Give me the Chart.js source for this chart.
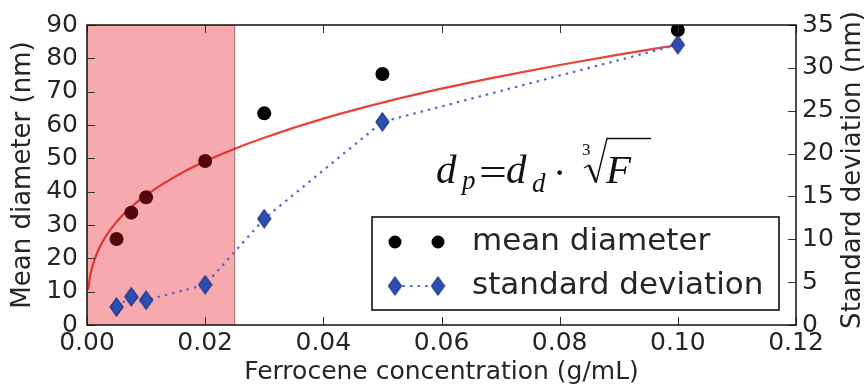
<!DOCTYPE html>
<html>
<head>
<meta charset="utf-8">
<script src="https://cdn.jsdelivr.net/npm/chart.js@4.4.1/dist/chart.umd.min.js"></script>
<style>
  html, body { margin: 0; padding: 0; background: #ffffff; }
  #wrap { width: 866px; height: 385px; position: relative; }
</style>
</head>
<body>
<div id="wrap"><canvas id="c" width="866" height="385"></canvas></div>
<script>
// ---- data ----
const concentration = [0.005, 0.0075, 0.01, 0.02, 0.03, 0.05, 0.10];
const meanDiameter  = [25.8, 33.7, 38.3, 49.2, 63.5, 75.3, 88.5];
const stdDeviation  = [2.1, 3.3, 2.9, 4.7, 12.4, 23.7, 32.7];
// fitted cube-root curve
const fitConcentration = [0.0002, 0.0005, 0.001, 0.002, 0.003, 0.004, 0.006, 0.008, 0.01, 0.015, 0.02, 0.025, 0.03, 0.04, 0.05, 0.06, 0.07, 0.08, 0.09, 0.10];
const fitDiameter      = [10.6, 14.4, 18.1, 22.8, 26.1, 28.7, 32.9, 36.2, 39.0, 44.6, 49.1, 52.9, 56.2, 61.9, 66.7, 70.9, 74.6, 78.0, 81.1, 84.0];
const shadedRange = [0, 0.025];
const xTickValues  = [0, 0.02, 0.04, 0.06, 0.08, 0.10, 0.12];
const yTickValues  = [0, 10, 20, 30, 40, 50, 60, 70, 80, 90];
const y2TickValues = [0, 5, 10, 15, 20, 25, 30, 35];
const seriesLabels = ['mean diameter', 'standard deviation'];
const xTitle = 'Ferrocene concentration (g/mL)';
const yTitle = 'Mean diameter (nm)';
const y2Title = 'Standard deviation (nm)';

const TEXT = '#262626';
const SANS = "'DejaVu Sans', sans-serif";

// thin diamond marker (matplotlib 'd')
function makeDiamond(w, h) {
  const c = document.createElement('canvas');
  c.width = w + 2; c.height = h + 2;
  const g = c.getContext('2d');
  g.beginPath();
  g.moveTo(c.width / 2, 1);
  g.lineTo(c.width - 1, c.height / 2);
  g.lineTo(c.width / 2, c.height - 1);
  g.lineTo(1, c.height / 2);
  g.closePath();
  g.fillStyle = '#2f4fb0';
  g.fill();
  g.lineWidth = 1.2;
  g.strokeStyle = '#1d2f86';
  g.stroke();
  return c;
}
const diamond = makeDiamond(13, 18);

const toXY = (xs, ys) => xs.map((x, i) => ({ x: x, y: ys[i] }));

const decorPlugin = {
  id: 'decor',
  beforeDatasetDraw(chart, args) {
    // the shaded span sits above the black dots but below the diamonds
    if (args.index !== 2) return;
    const { ctx, chartArea: a, scales: { x } } = chart;
    const x0 = x.getPixelForValue(shadedRange[0]);
    const x1 = x.getPixelForValue(shadedRange[1]);
    ctx.save();
    ctx.fillStyle = 'rgba(232, 20, 30, 0.36)';
    ctx.fillRect(x0, a.top, x1 - x0, a.bottom - a.top);
    ctx.strokeStyle = 'rgba(90, 60, 60, 0.55)';
    ctx.lineWidth = 1.2;
    ctx.beginPath();
    ctx.moveTo(x1, a.top); ctx.lineTo(x1, a.bottom);
    ctx.stroke();
    ctx.restore();
  },
  afterDatasetsDraw(chart) {
    const { ctx, chartArea: a, scales: { x, y, y2 } } = chart;
    ctx.save();
    // ticks (inside)
    ctx.strokeStyle = '#333';
    ctx.lineWidth = 1;
    const tl = 8;
    ctx.beginPath();
    xTickValues.forEach(v => {
      const px = Math.round(x.getPixelForValue(v)) + 0.5;
      ctx.moveTo(px, a.bottom); ctx.lineTo(px, a.bottom - tl);
      ctx.moveTo(px, a.top); ctx.lineTo(px, a.top + tl);
    });
    yTickValues.forEach(v => {
      const py = Math.round(y.getPixelForValue(v)) + 0.5;
      ctx.moveTo(a.left, py); ctx.lineTo(a.left + tl, py);
    });
    y2TickValues.forEach(v => {
      const py = Math.round(y2.getPixelForValue(v)) + 0.5;
      ctx.moveTo(a.right, py); ctx.lineTo(a.right - tl, py);
    });
    ctx.stroke();

    // legend
    const lx0 = 372, ly0 = 217, lx1 = 779, ly1 = 310;
    ctx.fillStyle = '#ffffff';
    ctx.fillRect(lx0, ly0, lx1 - lx0, ly1 - ly0);
    ctx.strokeStyle = '#111';
    ctx.lineWidth = 1.6;
    ctx.strokeRect(lx0, ly0, lx1 - lx0, ly1 - ly0);
    const m1 = 395, m2 = 438, row1 = 242, row2 = 286;
    ctx.fillStyle = '#000';
    [m1, m2].forEach(mx => { ctx.beginPath(); ctx.arc(mx, row1, 6.5, 0, Math.PI * 2); ctx.fill(); });
    ctx.strokeStyle = '#5566dd';
    ctx.lineWidth = 2.2;
    ctx.setLineDash([2.5, 5]);
    ctx.beginPath(); ctx.moveTo(m1, row2); ctx.lineTo(m2, row2); ctx.stroke();
    ctx.setLineDash([]);
    [m1, m2].forEach(mx => ctx.drawImage(diamond, mx - diamond.width / 2, row2 - diamond.height / 2));
    ctx.fillStyle = TEXT;
    ctx.font = "31px " + SANS;
    ctx.textBaseline = 'middle';
    ctx.textAlign = 'left';
    ctx.fillText(seriesLabels[0], 472, row1);
    ctx.fillText(seriesLabels[1], 472, row2);

    // right axis title, reading bottom to top
    ctx.save();
    ctx.translate(853, 170);
    ctx.rotate(-Math.PI / 2);
    ctx.textAlign = 'center';
    ctx.textBaseline = 'middle';
    ctx.font = "26px " + SANS;
    ctx.fillText(y2Title, 0, 0);
    ctx.restore();

    // formula  d_p = d_d · ∛F
    ctx.fillStyle = '#111';
    ctx.textBaseline = 'alphabetic';
    ctx.textAlign = 'left';
    const SERIF = "'Liberation Serif', serif";
    ctx.font = "italic 41px " + SERIF;
    ctx.fillText('d', 436, 183);
    ctx.font = "italic 27px " + SERIF;
    ctx.fillText('p', 462, 189);
    ctx.save();
    ctx.translate(479, 185);
    ctx.scale(1.3, 1);
    ctx.font = "38px " + SERIF;
    ctx.fillText('=', 0, 0);
    ctx.restore();
    ctx.font = "italic 41px " + SERIF;
    ctx.fillText('d', 506, 183);
    ctx.font = "italic 27px " + SERIF;
    ctx.fillText('d', 532, 192);
    ctx.font = "40px " + SERIF;
    ctx.fillText('\u00B7', 553, 186);
    ctx.font = "17px " + SERIF;
    ctx.fillText('3', 582, 155);
    // radical sign
    ctx.strokeStyle = '#111';
    ctx.lineJoin = 'miter';
    ctx.lineWidth = 1.4;
    ctx.beginPath();
    ctx.moveTo(584, 168); ctx.lineTo(589, 165);
    ctx.stroke();
    ctx.lineWidth = 2.6;
    ctx.beginPath();
    ctx.moveTo(589, 165); ctx.lineTo(596, 182);
    ctx.stroke();
    ctx.lineWidth = 1.4;
    ctx.beginPath();
    ctx.moveTo(596, 183); ctx.lineTo(607, 138.5); ctx.lineTo(651, 138.5);
    ctx.stroke();
    ctx.font = "italic 41px " + SERIF;
    ctx.fillText('F', 606, 183);

    // frame
    ctx.strokeStyle = '#111';
    ctx.lineWidth = 1.5;
    ctx.strokeRect(a.left, a.top, a.right - a.left, a.bottom - a.top);
    ctx.restore();
  }
};

new Chart(document.getElementById('c'), {
  type: 'scatter',
  data: {
    datasets: [
      {
        label: 'fit',
        data: toXY(fitConcentration, fitDiameter),
        showLine: true,
        borderColor: '#e8423a',
        borderWidth: 2.2,
        pointRadius: 0,
        cubicInterpolationMode: 'monotone',
        yAxisID: 'y',
        order: 2
      },
      {
        label: seriesLabels[0],
        data: toXY(concentration, meanDiameter),
        showLine: false,
        pointRadius: 7,
        pointBackgroundColor: '#000',
        pointBorderColor: '#000',
        pointBorderWidth: 0,
        yAxisID: 'y',
        order: 1
      },
      {
        label: seriesLabels[1],
        data: toXY(concentration, stdDeviation),
        showLine: true,
        borderColor: '#5566dd',
        borderWidth: 2.2,
        borderDash: [2.5, 5],
        pointStyle: diamond,
        yAxisID: 'y2',
        order: 0
      }
    ]
  },
  options: {
    responsive: false,
    animation: false,
    devicePixelRatio: 1,
    layout: { padding: { top: 25, left: 0, right: 0, bottom: 0 } },
    plugins: { legend: { display: false }, tooltip: { enabled: false } },
    scales: {
      x: {
        type: 'linear', position: 'bottom', min: 0, max: 0.12,
        afterBuildTicks: s => { s.ticks = xTickValues.map(v => ({ value: v })); },
        afterFit: s => { s.height = 60; },
        grid: { display: false, drawTicks: false },
        border: { display: false },
        ticks: {
          autoSkip: false, maxRotation: 0, padding: 6, color: TEXT,
          font: { family: SANS, size: 25, lineHeight: 1 },
          callback: v => Number(v).toFixed(2)
        },
        title: { display: true, text: xTitle, color: TEXT, padding: { top: 0, bottom: 0 },
                 font: { family: SANS, size: 25, lineHeight: 1 } }
      },
      y: {
        type: 'linear', position: 'left', min: 0, max: 90,
        afterBuildTicks: s => { s.ticks = yTickValues.map(v => ({ value: v })); },
        afterFit: s => { s.width = 87; },
        grid: { display: false, drawTicks: false },
        border: { display: false },
        ticks: { autoSkip: false, padding: 9, color: TEXT, font: { family: SANS, size: 25, lineHeight: 1 } },
        title: { display: true, text: yTitle, color: TEXT, padding: { top: 10, bottom: 0 },
                 font: { family: SANS, size: 26, lineHeight: 1 } }
      },
      y2: {
        type: 'linear', position: 'right', min: 0, max: 35,
        afterBuildTicks: s => { s.ticks = y2TickValues.map(v => ({ value: v })); },
        afterFit: s => { s.width = 70; },
        grid: { display: false, drawTicks: false },
        border: { display: false },
        ticks: { autoSkip: false, padding: 6, color: TEXT, font: { family: SANS, size: 25, lineHeight: 1 } },
        title: { display: false, text: y2Title }
      }
    }
  },
  plugins: [decorPlugin]
});
</script>
</body>
</html>
